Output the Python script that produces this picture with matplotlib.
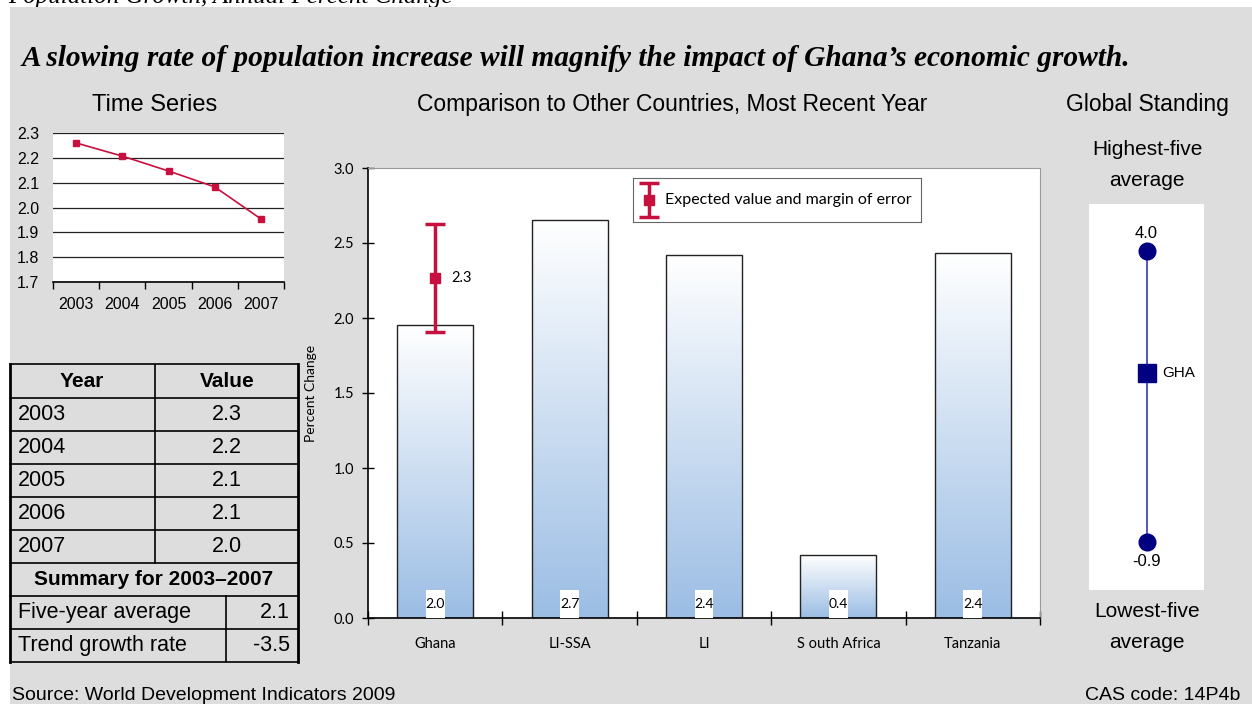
import numpy as np
import matplotlib.pyplot as plt
from matplotlib.patches import Rectangle
from matplotlib.colors import LinearSegmentedColormap

# population growth, annual percent change
years = ['2003', '2004', '2005', '2006', '2007']
growth = [2.26, 2.207, 2.147, 2.083, 1.954]
five_year_avg = 2.1
trend_rate = -3.5

countries = ['Ghana', 'LI-SSA', 'LI', 'S outh Africa', 'Tanzania']
recent = [1.953, 2.653, 2.42, 0.42, 2.433]
expected = 2.27
margin = 0.36

high_five = 4.0
low_five = -0.9
gha_value = 1.95

W, H = 1252, 704
BG = '#DDDDDD'
RED = '#C8103E'
NAVY = '#000080'
SANS = 'Liberation Sans'
GILL = 'Lato'

fig = plt.figure(figsize=(W / 100, H / 100), dpi=100)
fig.patch.set_facecolor('white')


def box(x0, y0, x1, y1):
    # axes placed by pixel edges measured from the top-left corner
    return fig.add_axes([x0 / W, 1 - y1 / H, (x1 - x0) / W, (y1 - y0) / H])


# grey panel and page-level text
fig.add_artist(Rectangle((10 / W, 0), 1 - 10 / W, 1 - 7 / H, transform=fig.transFigure,
                         facecolor=BG, edgecolor='none', zorder=-10))
fig.text(8 / W, 1 - 3 / H, 'Population Growth, Annual Percent Change', fontsize=18,
         family='Liberation Serif', style='italic', va='baseline', zorder=-20)
fig.text(22 / W, 1 - 58 / H,
         'A slowing rate of population increase will magnify the impact of Ghana\u2019s economic growth.',
         fontsize=21.2, family='Liberation Serif', style='italic', weight='bold', va='center')
fig.text(155 / W, 1 - 105 / H, 'Time Series', fontsize=17, family=SANS, ha='center', va='center')
fig.text(672 / W, 1 - 105 / H, 'Comparison to Other Countries, Most Recent Year', fontsize=16.5,
         family=SANS, ha='center', va='center')
fig.text(1147 / W, 1 - 105 / H, 'Global Standing', fontsize=16.5, family=SANS, ha='center', va='center')
fig.text(1147 / W, 1 - 165 / H, 'Highest-five\naverage', fontsize=15, family=SANS, ha='center',
         va='center', linespacing=1.85)
fig.text(1147 / W, 1 - 627 / H, 'Lowest-five\naverage', fontsize=15, family=SANS, ha='center',
         va='center', linespacing=1.85)
fig.text(12 / W, 1 - 700 / H, 'Source: World Development Indicators 2009', fontsize=14,
         family=SANS, va='baseline')
fig.text(1240 / W, 1 - 700 / H, 'CAS code: 14P4b', fontsize=14, family=SANS, ha='right', va='baseline')

# time series
ts = box(53, 133, 284, 282)
xs = np.arange(len(years))
ts.plot(xs, growth, color=RED, lw=1.2, marker='s', ms=4.5, zorder=3)
ts.set_xlim(-0.5, len(years) - 0.5)
ts.set_ylim(1.7, 2.3)
ts.set_yticks(np.arange(1.7, 2.31, 0.1))
ts.set_yticklabels([f'{v:.1f}' for v in np.arange(1.7, 2.31, 0.1)], fontsize=11.5, family=SANS)
ts.yaxis.grid(True, color='#222222', lw=0.9)
ts.set_axisbelow(True)
ts.tick_params(axis='y', length=0, pad=10)
ts.set_xticks(xs)
ts.set_xticklabels(years, fontsize=11.5, family=SANS)
ts.set_xticks(np.arange(-0.5, len(years)), minor=True)
ts.tick_params(axis='x', which='major', length=0, pad=11)
ts.tick_params(axis='x', which='minor', length=5, width=1, direction='out')
for s in ['left', 'right', 'top']:
    ts.spines[s].set_visible(False)
ts.spines['bottom'].set_linewidth(1.2)

# summary table
tb = box(10, 364, 298, 662)
tb.set_xlim(10, 298)
tb.set_ylim(662, 364)
tb.axis('off')
row_edges = [364, 398] + [398 + 33 * (i + 1) for i in range(8)]
row_edges[-1] = 662
for y in row_edges:
    tb.plot([10, 298], [y, y], color='black', lw=1.2, clip_on=False)
for x in [10, 298]:
    tb.plot([x, x], [364, 662], color='black', lw=2, clip_on=False)
tb.plot([155, 155], [row_edges[0], row_edges[6]], color='black', lw=1.2)
tb.plot([226, 226], [row_edges[7], row_edges[9]], color='black', lw=1.2)


def mid(i):
    return (row_edges[i] + row_edges[i + 1]) / 2


FS = 15.5
tb.text(82, mid(0), 'Year', fontsize=15, weight='bold', family=SANS, ha='center', va='center')
tb.text(227, mid(0), 'Value', fontsize=15, weight='bold', family=SANS, ha='center', va='center')
for i, (yr, v) in enumerate(zip(years, growth)):
    tb.text(18, mid(i + 1), yr, fontsize=FS, family=SANS, va='center')
    tb.text(227, mid(i + 1), f'{v:.1f}', fontsize=FS, family=SANS, ha='center', va='center')
tb.text(154, mid(6), f'Summary for {years[0]}\u2013{years[-1]}', fontsize=15, weight='bold',
        family=SANS, ha='center', va='center')
tb.text(18, mid(7), 'Five-year average', fontsize=FS, family=SANS, va='center')
tb.text(290, mid(7), f'{five_year_avg:.1f}', fontsize=FS, family=SANS, ha='right', va='center')
tb.text(18, mid(8), 'Trend growth rate', fontsize=FS, family=SANS, va='center')
tb.text(290, mid(8), f'{trend_rate:.1f}', fontsize=FS, family=SANS, ha='right', va='center')

# comparison bar chart
ax = box(368, 168, 1040, 618)
ax.set_facecolor('white')
cmap = LinearSegmentedColormap.from_list('fade', ['white', '#9BBDE4'])
grad = np.linspace(1, 0, 256).reshape(-1, 1)
bw = 0.565
pos = np.arange(len(countries))
for x, v in zip(pos, recent):
    ax.imshow(grad, extent=(x - bw / 2, x + bw / 2, 0, v), aspect='auto', cmap=cmap,
              origin='lower', vmin=0, vmax=1, zorder=1)
ax.bar(pos, recent, width=bw, fill=False, edgecolor='#222222', lw=1, zorder=2)
for x, v in zip(pos, recent):
    ax.add_patch(Rectangle((x - 0.07, 0), 0.14, 0.187, facecolor='white', edgecolor='none', zorder=3))
    ax.text(x, 0.09, f'{v:.1f}', fontsize=10, family=GILL, ha='center', va='center', zorder=4)

eb_style = dict(fmt='s', color=RED, ms=7, elinewidth=2.5, capsize=7, capthick=2.5)
ax.errorbar(0, expected, yerr=margin, zorder=5, **eb_style)
ax.text(0.12, expected, f'{expected:.1f}', fontsize=10.5, family=GILL, va='center')

ax.set_xlim(-0.5, len(countries) - 0.5)
ax.set_ylim(0, 3.0)
ax.set_yticks(np.arange(0, 3.01, 0.5))
ax.set_yticklabels([f'{v:.1f}' for v in np.arange(0, 3.01, 0.5)], fontsize=10.5, family=GILL)
ax.tick_params(axis='y', direction='inout', length=8, width=1, pad=6)
ax.set_xticks(pos)
ax.set_xticklabels(countries, fontsize=10.5, family=GILL)
ax.set_xticks(np.arange(-0.5, len(countries)), minor=True)
ax.tick_params(axis='x', which='major', length=0, pad=14)
ax.tick_params(axis='x', which='minor', direction='inout', length=10, width=1)
ax.set_ylabel('Percent Change', fontsize=10, family=GILL, labelpad=12)
for s in ['top', 'right']:
    ax.spines[s].set_color('#9A9A9A')
for s in ['left', 'bottom']:
    ax.spines[s].set_linewidth(1.2)

# legend box for the error bar
lg = box(633, 178, 921, 222)
lg.set_xlim(0, 288)
lg.set_ylim(44, 0)
lg.errorbar(16, 22, yerr=17, **eb_style)
lg.text(32, 22, 'Expected value and margin of error', fontsize=11.5, family=GILL, va='center')
lg.set_xticks([])
lg.set_yticks([])
for s in lg.spines.values():
    s.set_color('#666666')

# global standing scale
gs = box(1089, 204, 1204, 590)
gs.set_facecolor('white')
gs.set_xlim(-1, 1)
gs.set_ylim(low_five - 48 / 59.4, high_five + 47 / 59.4)
gs.plot([0, 0], [low_five, high_five], color='#3A3AB0', lw=1.2, zorder=1)
gs.plot([0, 0], [low_five, high_five], 'o', color=NAVY, ms=12, zorder=2)
gs.plot([0], [gha_value], 's', color=NAVY, ms=13, zorder=3)
gs.text(0, high_five + 0.17, f'{high_five:.1f}', fontsize=12, family=SANS, ha='center', va='bottom')
gs.text(0, low_five - 0.2, f'{low_five:.1f}', fontsize=12, family=SANS, ha='center', va='top')
gs.text(0.27, gha_value, 'GHA', fontsize=11, family=SANS, va='center')
gs.set_xticks([])
gs.set_yticks([])
for s in gs.spines.values():
    s.set_visible(False)

fig.savefig('out.png', dpi=100)
